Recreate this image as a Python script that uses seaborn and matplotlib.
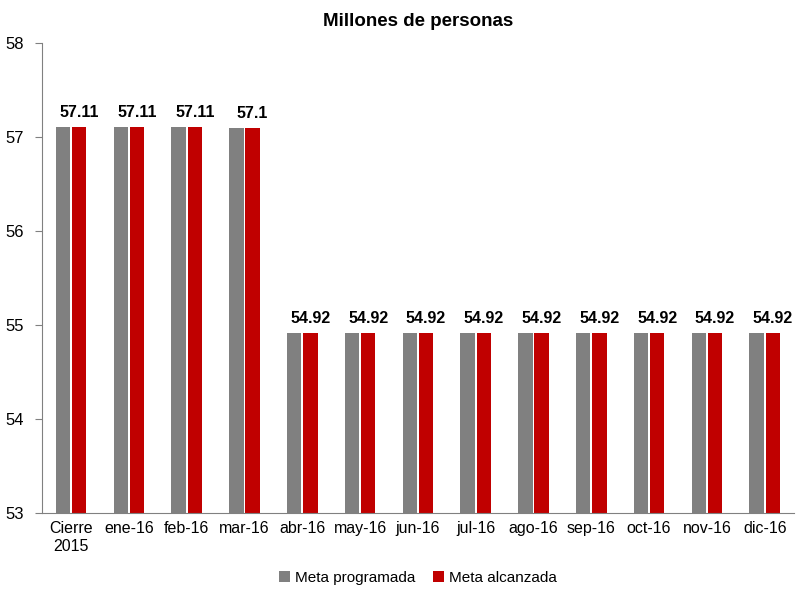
import matplotlib
matplotlib.use("Agg")
import matplotlib.pyplot as plt
import numpy as np
import pandas as pd
import seaborn as sns

categories = ["Cierre\n2015", "ene-16", "feb-16", "mar-16", "abr-16", "may-16", "jun-16",
              "jul-16", "ago-16", "sep-16", "oct-16", "nov-16", "dic-16"]
meta_programada = [57.11, 57.11, 57.11, 57.10, 54.92, 54.92, 54.92,
                   54.92, 54.92, 54.92, 54.92, 54.92, 54.92]
meta_alcanzada = [57.11, 57.11, 57.11, 57.10, 54.92, 54.92, 54.92,
                  54.92, 54.92, 54.92, 54.92, 54.92, 54.92]
series_names = ["Meta programada", "Meta alcanzada"]

df = pd.DataFrame({
    "mes": categories * 2,
    "valor": meta_programada + meta_alcanzada,
    "serie": [series_names[0]] * len(categories) + [series_names[1]] * len(categories),
})

sns.set_style("white")
plt.rcParams["font.family"] = ["Liberation Sans", "DejaVu Sans"]
plt.rcParams["text.color"] = "#000000"
plt.rcParams["xtick.color"] = "#000000"
plt.rcParams["ytick.color"] = "#000000"

fig = plt.figure(figsize=(7.96, 5.90), dpi=100)
ax = fig.add_axes([0.053, 0.1305, 0.944, 0.7965])

sns.barplot(data=df, x="mes", y="valor", hue="serie", order=categories,
            hue_order=series_names, palette=["#808080", "#C00000"],
            saturation=1, linewidth=0, width=0.56, gap=0.1, ax=ax, legend=True)

# etiquetas sobre la serie alcanzada
red = ax.containers[1]
labels = [f"{v:g}" for v in meta_alcanzada]
ax.bar_label(red, labels=labels, padding=5, fontsize=11.5, fontweight="bold")

ax.set_ylim(53, 58)
ax.set_xlim(-0.5, len(categories) - 0.5)
ax.set_yticks(range(53, 59))
ax.set_xlabel("")
ax.set_ylabel("")
ax.set_title("Millones de personas", fontsize=13.5, fontweight="bold", pad=12)

for s in ["top", "right"]:
    ax.spines[s].set_visible(False)
ax.spines["left"].set_color("#808080")
ax.spines["bottom"].set_color("#808080")

ax.tick_params(axis="x", which="major", length=0, labelsize=11.5, pad=6)
ax.set_xticks(np.arange(-0.5, len(categories), 1), minor=True)
ax.tick_params(axis="x", which="minor", length=5, color="#808080", direction="out")
ax.tick_params(axis="y", length=5, color="#808080", labelcolor="#000000", direction="out",
               labelsize=12, left=True, pad=8)

leg = ax.legend(loc="center", bbox_to_anchor=(0.5, -0.138), ncol=2, frameon=False,
                fontsize=11, handlelength=0.7, handleheight=0.7, handletextpad=0.3,
                columnspacing=1.2)

fig.savefig("out.png", dpi=100)
plt.close(fig)
